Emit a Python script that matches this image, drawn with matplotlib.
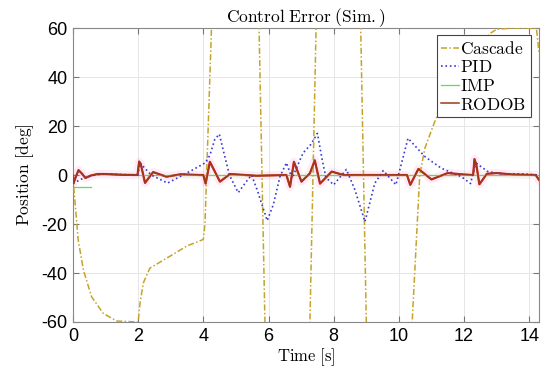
import numpy as np
import matplotlib
matplotlib.use("Agg")
from matplotlib import pyplot as plt

# values (time [s], error [deg])
t_cascade = [0, 0.03, 0.16, 0.32, 0.57, 0.93, 1.34, 2.0, 2.06, 2.16, 2.36, 2.87, 3.49, 4.0,
             4.05, 4.3, 5.0, 5.695, 5.905, 6.6, 7.255, 7.475, 8.1, 8.815, 9.015, 9.7,
             10.37, 10.64, 10.8, 11.04, 11.2, 11.5, 12.0, 12.4, 12.8, 13.0, 13.5, 14.22, 14.3]
v_cascade = [0, -6, -26.5, -38.8, -49.7, -56.5, -59.6, -60, -52, -44, -38, -34, -29, -26.3,
             -20, 80, 120, 70, -70, -120, -70, 70, 120, 70, -70, -120,
             -70, 0, 11, 19.7, 25, 34, 45, 52, 57.8, 59.5, 60, 60, 50]

t_pid = [0, 0.3, 0.6, 0.9, 1.5, 2.0, 2.05, 2.4, 2.9, 3.59, 4.05, 4.2, 4.35, 4.49, 4.65,
         4.8, 5.07, 5.3, 5.48, 5.65, 5.96, 6.15, 6.35, 6.55, 6.72, 7.06, 7.3, 7.5, 7.65,
         7.76, 8.0, 8.39, 8.65, 8.96, 9.26, 9.52, 9.91, 10.28, 10.8, 11.3, 11.92, 12.2,
         12.32, 12.38, 12.73, 13.14, 13.76, 14.3]
v_pid = [-3.4, -1.4, -0.2, 0.4, 0.2, 0, 5.0, 0, -3.3, 1.5, 4.9, 8, 14.5, 16.7, 8,
         0, -7.2, -3, 0, -6, -18.6, -12, -0.7, 5, -1.4, 9, 12.5, 17, 6,
         -1, -4, 2.3, -6, -19, -3.4, 1.8, -4, 15, 7.5, 2.8, -0.7, -3.5,
         3, 4.8, 1.4, 0.5, 0.5, 0]

t_imp = [0.0, 0.02, 0.54, np.nan, 2.0, 4.0, 6.6, 10.3, 12.3, 14.3]
v_imp = [-5, -5, -5, np.nan, 0, 0, 0, 0, 0, 0]

t_rodob = [0, 0.01, 0.08, 0.17, 0.28, 0.38, 0.55, 0.75, 1.0, 1.5, 1.98, 2.03, 2.08, 2.21,
           2.46, 2.87, 3.3, 3.9, 4.0, 4.07, 4.2, 4.51, 4.82, 5.63, 6.55, 6.66, 6.78, 7.01,
           7.27, 7.42, 7.58, 7.94, 8.3, 10.25, 10.35, 10.6, 11.0, 11.5, 12.0, 12.28,
           12.32, 12.38, 12.47, 12.7, 13.0, 13.5, 14.2, 14.3]
v_rodob = [0, -3.5, -1, 2.0, 0.5, -1.2, -0.2, 0.4, 0.4, 0.1, 0, 5.5, 4.5, -3.2,
           1.2, -0.7, 0.3, 0, 0, -3.5, 5.4, -2.7, 0.4, -0.3, 0, -4.8, 5.4, -2.7,
           0.7, 6, -3.5, 1.4, 0, 0, -4, 2.5, -1.8, 0.8, 0.2, 0,
           6.5, 4, -3.8, 0.5, 0.8, 0.2, 0, -2]

y_ticks = [-60, -40, -20, 0, 20, 40, 60]
x_ticks = [0, 2, 4, 6, 8, 10, 12, 14]

plt.rcParams['mathtext.fontset'] = 'cm'
plt.rcParams['font.family'] = ['Liberation Sans', 'DejaVu Sans']
plt.rcParams['axes.unicode_minus'] = False

fig = plt.figure(figsize=(5.5, 3.79), dpi=100)
ax = fig.add_axes([0.1327, 0.1504, 0.8473, 0.7756])

# faint band and red trace under RODOB
ax.plot(t_rodob, v_rodob, color='#ff66cc', lw=6, alpha=0.12, zorder=1)
ax.plot(t_rodob, v_rodob, color='#e02020', lw=1.6, zorder=2)

ax.plot(t_cascade, v_cascade, color='#c4a42a', lw=1.1, dashes=(4, 1.5, 1, 1.5),
        label=r'$\mathrm{Cascade}$', zorder=3)
ax.plot(t_pid, v_pid, color='#3a3ad0', lw=1.2, ls=':', label=r'$\mathrm{PID}$', zorder=4)
ax.plot(t_imp, v_imp, color='#44ee44', lw=0.9, label=r'$\mathrm{IMP}$', zorder=2)
ax.plot(t_rodob, v_rodob, color='#9a3a18', lw=1.1, label=r'$\mathrm{RODOB}$', zorder=5)

ax.set_xlim(0, 14.3)
ax.set_ylim(-60, 60)
ax.set_xticks(x_ticks)
ax.set_yticks(y_ticks)
ax.tick_params(direction='in', top=True, right=True, labelsize=13, length=4,
               color='#777777', pad=4)
for s in ax.spines.values():
    s.set_color('#888888')
    s.set_linewidth(0.8)
ax.grid(True, color='#e6e6e6', lw=0.7)
ax.set_axisbelow(True)

ax.set_title(r'$\mathrm{Control\ Error\ (Sim.)}$', fontsize=12.5, pad=4)
ax.set_xlabel(r'$\mathrm{Time\ [s]}$', fontsize=12, labelpad=1)
ax.set_ylabel(r'$\mathrm{Position\ [deg]}$', fontsize=12.5, labelpad=4)

leg = ax.legend(loc='upper right', bbox_to_anchor=(0.983, 0.975), fontsize=12.5,
                fancybox=False, framealpha=1, edgecolor='#444444', borderaxespad=0,
                handlelength=1.0, handletextpad=0.1, labelspacing=0.15,
                borderpad=0.25)
leg.get_frame().set_linewidth(0.8)

fig.savefig('out.png', dpi=100)
